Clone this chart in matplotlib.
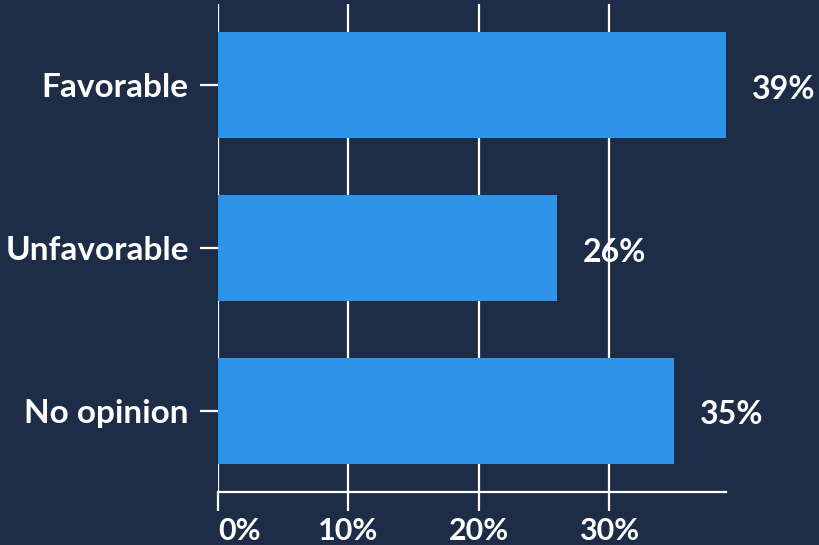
import matplotlib.pyplot as plt

categories = ['Favorable', 'Unfavorable', 'No opinion']
values = [39, 26, 35]
xticks = [0, 10, 20, 30]

bg = '#1d2d47'
bar_color = '#2f93e8'

plt.rcParams['font.family'] = ['Lato', 'DejaVu Sans']
plt.rcParams['font.weight'] = 'bold'

fig = plt.figure(figsize=(8.19, 5.45), dpi=100, facecolor=bg)
ax = fig.add_axes([218 / 819, 1 - 492 / 545, (726 - 218) / 819, 488 / 545])
ax.set_facecolor(bg)

ypos = list(range(len(categories)))
ax.barh(ypos, values, height=0.65, color=bar_color, zorder=2)
ax.set_ylim(2.5, -0.5)
ax.set_xlim(0, 39)

# vertical grid lines
for t in xticks:
    ax.axvline(t, color='white', lw=1.6, zorder=1)

for s in ['top', 'right', 'left']:
    ax.spines[s].set_visible(False)
ax.spines['bottom'].set_color('white')
ax.spines['bottom'].set_linewidth(1.6)

ax.set_yticks(ypos)
ax.set_yticklabels(categories)
ax.set_xticks(xticks)
ax.set_xticklabels([str(t) + '%' for t in xticks])
ax.get_xticklabels()[0].set_ha('left')
ax.tick_params(axis='y', colors='white', length=13, width=1.6, pad=8, labelsize=24)
ax.tick_params(axis='x', colors='white', length=14, width=1.6, pad=4, labelsize=22)

for y, v in zip(ypos, values):
    ax.text(v + 2, y + 0.025, str(v) + '%', color='white', fontsize=23,
            fontweight='bold', va='center', ha='left')

fig.savefig('out.png', dpi=100, facecolor=bg)
